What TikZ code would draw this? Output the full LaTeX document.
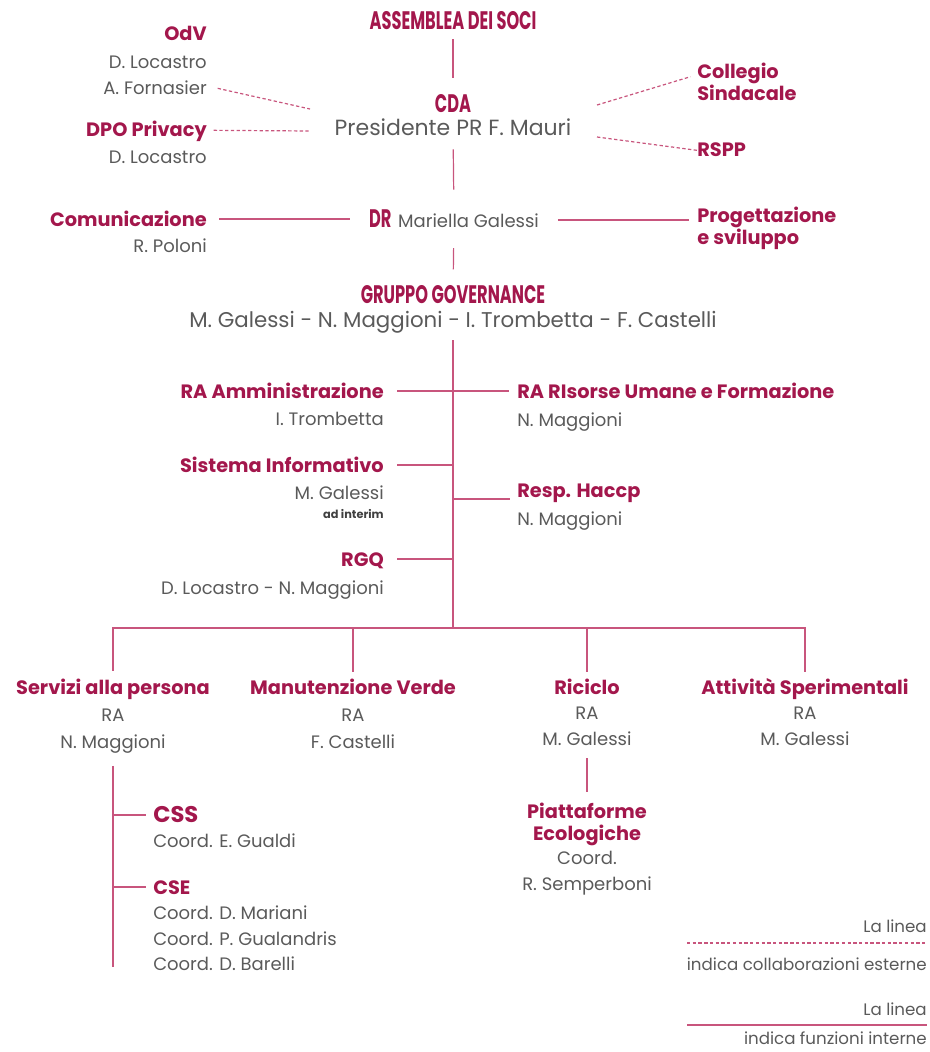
\documentclass[tikz,border=0pt]{standalone}
\usepackage{fontspec}
\setmainfont{Poppins}
\usepackage{graphicx}
\usetikzlibrary{positioning}

\definecolor{brand}{RGB}{163,23,76}
\definecolor{brandline}{RGB}{200,85,125}
\definecolor{namegray}{RGB}{90,90,90}
\newcommand{\cond}[1]{\scalebox{0.64}[1]{#1}}
\newcommand{\headsize}{\fontsize{19}{20}\selectfont\bfseries}

\begin{document}
\begin{tikzpicture}[
    x=0.75pt, y=-0.75pt,
    head/.style={font=\headsize, text=brand, inner sep=0pt, anchor=mid, yshift=-3pt},
    unit/.style={font=\fontsize{14.5}{16.5}\selectfont\bfseries, text=brand, inner sep=0pt, yshift=-3pt},
    who/.style={font=\fontsize{13.5}{16}\selectfont, text=namegray, inner sep=0pt, yshift=-3pt},
    big/.style={font=\fontsize{16.5}{18}\selectfont, text=namegray, inner sep=0pt, anchor=mid, yshift=-3pt},
    note/.style={who, font=\fontsize{12.5}{15}\selectfont, anchor=mid east},
    link/.style={draw=brandline, line width=0.9pt},
    ext/.style={link, dash pattern=on 2.5pt off 1.8pt}
]
    \useasboundingbox (0,0) rectangle (930,1052);

    % vertice
    \node [head] (ass) at (453,22) {\cond{ASSEMBLEA DEI SOCI}};
    \node [head] (cda) at (453,105) {\cond{CDA}};
    \node [big] (pres) at (453,128) {Presidente PR F. Mauri};
    \node [who, anchor=mid] (dr) at (454,220) {{\color{brand}\headsize\cond{DR}}\hspace{5pt}Mariella Galessi};
    \node [head] (gov) at (453,296) {\cond{GRUPPO GOVERNANCE}};
    \node [big, font=\fontsize{16}{18}\selectfont] (govn) at (453,320) {M. Galessi - N. Maggioni - I. Trombetta - F. Castelli};

    % organi di controllo
    \node [unit, anchor=mid east] (odv) at (207,33) {OdV};
    \node [who, anchor=mid east] (odv1) at (207,61) {D. Locastro};
    \node [who, anchor=mid east] (odv2) at (207,87) {A. Fornasier};
    \node [unit, anchor=mid east] (dpo) at (207,129) {DPO Privacy};
    \node [who, anchor=mid east] (dpo1) at (207,156) {D. Locastro};
    \node [unit, anchor=mid east] (com) at (207,219) {Comunicazione};
    \node [who, anchor=mid east] (com1) at (207,245) {R. Poloni};
    \node [unit, anchor=north west, align=left] (col) at (697,59) {Collegio\\Sindacale};
    \node [unit, anchor=mid west] (rspp) at (697,149) {RSPP};
    \node [unit, anchor=north west, align=left] (prog) at (697,203) {Progettazione\\e sviluppo};

    \coordinate (cdaNW) at (310,109);
    \coordinate (cdaW) at (310,131);
    \coordinate (cdaNE) at (597,105);
    \coordinate (cdaE) at (597,137);

    \draw [link, shorten <=7pt, shorten >=12pt] (ass) -- (cda);
    \draw [link, shorten <=10pt, shorten >=15pt] (pres) -- (dr);
    \draw [link, shorten <=15pt, shorten >=12pt] (dr) -- (gov);
    \draw [ext] ([xshift=8pt,yshift=2pt]odv2.mid east) -- (cdaNW);
    \draw [ext] ([xshift=5pt,yshift=2pt]dpo.mid east) -- (cdaW);
    \draw [ext] (cdaNE) -- ([xshift=-5pt,yshift=4pt]col.west);
    \draw [ext] (cdaE) -- ([yshift=2pt]rspp.mid west);
    \draw [link, shorten <=9pt, shorten >=14pt] ([yshift=3pt]com.mid east) -- ([yshift=3pt]com.mid east -| dr.west);
    \draw [link, shorten <=14pt, shorten >=6pt] ([yshift=3pt]dr.mid east) -- ([yshift=3pt]dr.mid east -| prog.west);

    % staff del gruppo governance
    \coordinate (bus) at (453,628);
    \node [unit, anchor=mid east] (amm) at (384,391) {RA Amministrazione};
    \node [who, anchor=mid east] (amm1) at (384,418) {I. Trombetta};
    \node [unit, anchor=mid west] (rum) at (517,391) {RA RIsorse Umane e Formazione};
    \node [who, anchor=mid west] (rum1) at (517,419) {N. Maggioni};
    \node [unit, anchor=mid east] (sis) at (384,465) {Sistema Informativo};
    \node [who, anchor=mid east] (sis1) at (384,492) {M. Galessi};
    \node [who, anchor=mid east, font=\fontsize{8.5}{10}\selectfont\bfseries, text=black!75] (sis2) at (384,511) {ad interim};
    \node [unit, anchor=mid west] (hac) at (517,490) {Resp. Haccp};
    \node [who, anchor=mid west] (hac1) at (517,518) {N. Maggioni};
    \node [unit, anchor=mid east] (rgq) at (384,559) {RGQ};
    \node [who, anchor=mid east] (rgq1) at (384,587) {D. Locastro - N. Maggioni};
    \coordinate (hacj) at (453,499);

    \draw [link, shorten <=5pt] (govn) -- (bus);
    \draw [link, shorten <=9.75pt, shorten >=6pt] ([yshift=3pt]amm.mid east) -- ([yshift=3pt]rum.mid west);
    \draw [link, shorten <=9.75pt] ([yshift=3pt]sis.mid east) -- ([yshift=3pt]sis.mid east -| bus);
    \draw [link, shorten >=5pt] (hacj) -- (hacj -| hac.west);
    \draw [link, shorten <=9.75pt] ([yshift=3pt]rgq.mid east) -- ([yshift=3pt]rgq.mid east -| bus);

    % aree operative
    \node [unit, anchor=mid] (serv) at (113,687) {Servizi alla persona};
    \node [who, anchor=mid] (serv1) at (113,714) {RA};
    \node [who, anchor=mid] (serv2) at (113,741) {N. Maggioni};
    \node [unit, anchor=mid] (verde) at (353,687) {Manutenzione Verde};
    \node [who, anchor=mid] (verde1) at (353,714) {RA};
    \node [who, anchor=mid] (verde2) at (353,741) {F. Castelli};
    \node [unit, anchor=mid] (ric) at (587,687) {Riciclo};
    \node [who, anchor=mid] (ric1) at (587,712) {RA};
    \node [who, anchor=mid] (ric2) at (587,738) {M. Galessi};
    \node [unit, anchor=mid] (spe) at (805,687) {Attività Sperimentali};
    \node [who, anchor=mid] (spe1) at (805,712) {RA};
    \node [who, anchor=mid] (spe2) at (805,738) {M. Galessi};

    \draw [link, shorten >=6pt] (bus) -| (serv);
    \draw [link, shorten >=5pt] (bus) -| (verde);
    \draw [link, shorten >=5pt] (bus) -| (ric);
    \draw [link, shorten >=5pt] (bus) -| (spe);

    % servizi alla persona
    \node [unit, anchor=mid west, font=\fontsize{17}{18}\selectfont\bfseries] (css) at (153,815) {CSS};
    \node [who, anchor=mid west] (css1) at (153,840) {Coord. E. Gualdi};
    \node [unit, anchor=mid west] (cse) at (153,887) {CSE};
    \node [who, anchor=mid west] (cse1) at (153,912) {Coord. D. Mariani};
    \node [who, anchor=mid west] (cse2) at (153,938) {Coord. P. Gualandris};
    \node [who, anchor=mid west] (cse3) at (153,963) {Coord. D. Barelli};
    \coordinate (servend) at (113,967);

    \draw [link, shorten <=9pt] (serv2) -- (servend);
    \draw [link, shorten >=5pt] ([yshift=3pt]css.mid west -| servend) -- ([yshift=3pt]css.mid west);
    \draw [link, shorten >=5pt] ([yshift=3pt]cse.mid west -| servend) -- ([yshift=3pt]cse.mid west);

    % riciclo
    \node [unit, anchor=north, align=center] (piat) at (587,799) {Piattaforme\\Ecologiche};
    \node [who, anchor=mid] (piat1) at (587,857) {Coord.};
    \node [who, anchor=mid] (piat2) at (587,883) {R. Semperboni};

    \draw [link, shorten <=9pt, shorten >=8pt] (ric2) -- (piat);

    % legenda
    \node [note] (leg1) at (927,925) {La linea};
    \node [note] (leg2) at (927,963) {indica collaborazioni esterne};
    \node [note] (leg3) at (927,1008) {La linea};
    \node [note] (leg4) at (927,1037) {indica funzioni interne};
    \draw [ext] (687,943) -- (927,943);
    \draw [link] (687,1025) -- (927,1025);
\end{tikzpicture}
\end{document}
